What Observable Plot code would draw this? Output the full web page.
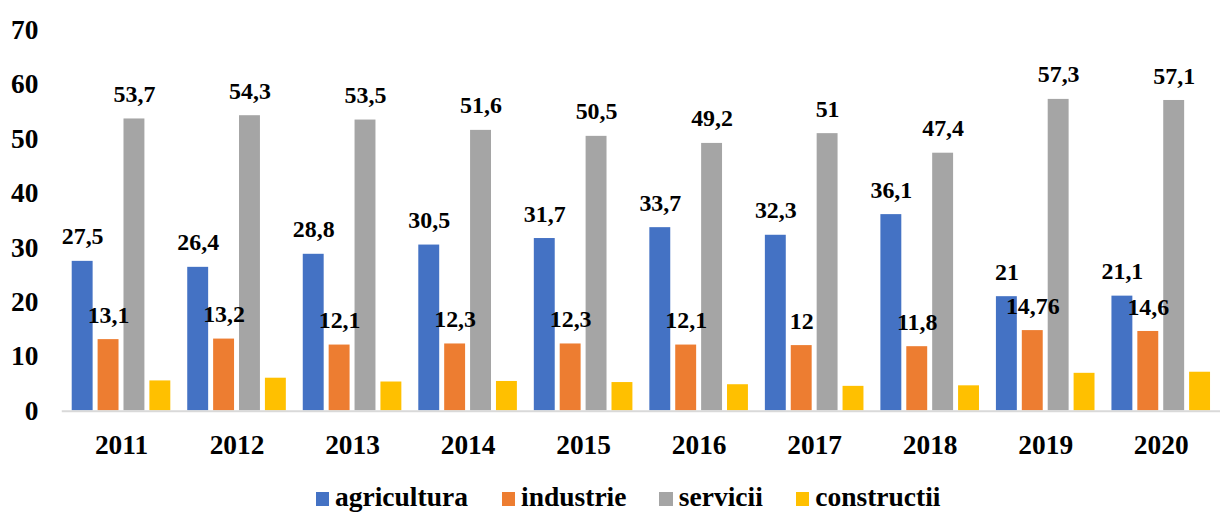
<!DOCTYPE html>
<html>
<head>
<meta charset="utf-8">
<script src="https://cdn.jsdelivr.net/npm/d3@7"></script>
<script src="https://cdn.jsdelivr.net/npm/@observablehq/plot@0.6"></script>
<style>
  html, body { margin: 0; padding: 0; background: #fff; overflow: hidden; width: 1220px; height: 513px; }
  #chart { position: relative; width: 1220px; height: 513px; overflow: hidden; }
  #legend { position: absolute; left: 0; top: 470px; height: 43px; width: 1220px; overflow: hidden;
            font-family: "Liberation Serif", Tinos, "Times New Roman", Times, serif;
            font-weight: bold; font-size: 27.5px; line-height: 27.5px; }
  .item { position: absolute; top: 13.2px; display: flex; align-items: flex-start; white-space: nowrap; color: #000; }
  .sw { width: 13.5px; height: 13.5px; margin-top: 9px; margin-right: 6px; }
</style>
</head>
<body>
<div id="chart"></div>
<script>
const years = ["2011","2012","2013","2014","2015","2016","2017","2018","2019","2020"];
const series = ["agricultura","industrie","servicii","constructii"];
const colors = ["#4472C4","#ED7D31","#A5A5A5","#FFC000"];
const agricultura = [27.5, 26.4, 28.8, 30.5, 31.7, 33.7, 32.3, 36.1, 21, 21.1];
const industrie   = [13.1, 13.2, 12.1, 12.3, 12.3, 12.1, 12, 11.8, 14.76, 14.6];
const servicii    = [53.7, 54.3, 53.5, 51.6, 50.5, 49.2, 51, 47.4, 57.3, 57.1];
const constructii = [5.5, 6.0, 5.3, 5.4, 5.2, 4.8, 4.5, 4.6, 6.9, 7.1];
const labelled = ["agricultura","industrie","servicii"];
const yTicks = [0,10,20,30,40,50,60,70];
// legend item left positions (px) — layout only
const legendX = [315.5, 501.5, 659.3, 795.7];

const valuesBySeries = {agricultura, industrie, servicii, constructii};
const data = [];
years.forEach((y, i) => series.forEach(s => data.push({year: y, series: s, value: valuesBySeries[s][i]})));

const fmt = v => String(v).replace(".", ",");
const FONT = "'Liberation Serif', Tinos, 'Times New Roman', Times, serif";

const chart = Plot.plot({
  width: 1225,
  height: 470,
  marginLeft: 62,
  marginRight: 0,
  marginTop: 30,
  marginBottom: 58,
  style: {fontFamily: FONT, fontWeight: "bold", fontSize: "27.5px", color: "#000", background: "#fff"},
  fx: {domain: years, paddingInner: 0.149, paddingOuter: 0.074, label: null, tickSize: 0, tickPadding: 24},
  x: {domain: series, paddingInner: 0.21, paddingOuter: 0, axis: null},
  y: {domain: [0, 70], ticks: yTicks, tickSize: 0, tickPadding: 34, label: null, tickFormat: d => String(d)},
  color: {domain: series, range: colors},
  marks: [
    Plot.barY(data, {fx: "year", x: "series", y: "value", fill: "series"}),
    Plot.text(data, {
      fx: "year", x: "series", y: "value",
      text: d => labelled.includes(d.series) ? fmt(d.value) : null,
      lineAnchor: "bottom", dy: -17, fontSize: 24, fontWeight: "bold", fill: "#000",
      fontFamily: FONT
    })
  ]
});

// category axis baseline drawn from the y scale
const yScale = chart.scale("y");
const y0 = yScale.apply(0);
d3.select(chart).append("line")
  .attr("x1", 62).attr("x2", 1225)
  .attr("y1", y0 + 1).attr("y2", y0 + 1)
  .attr("stroke", "#D9D9D9").attr("stroke-width", 2);

const root = document.getElementById("chart");
root.appendChild(chart);

const legend = document.createElement("div");
legend.id = "legend";
series.forEach((s, i) => {
  const item = document.createElement("div");
  item.className = "item";
  item.style.left = legendX[i] + "px";
  const sw = document.createElement("span");
  sw.className = "sw";
  sw.style.background = colors[i];
  const tx = document.createElement("span");
  tx.textContent = s;
  item.appendChild(sw);
  item.appendChild(tx);
  legend.appendChild(item);
});
root.appendChild(legend);
</script>
</body>
</html>
